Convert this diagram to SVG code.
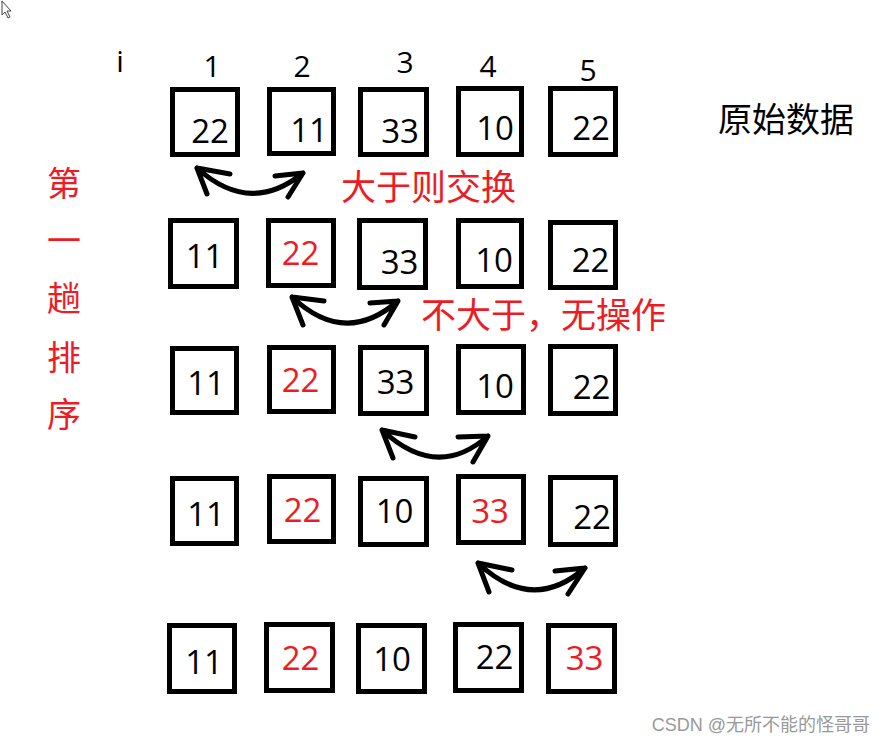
<svg xmlns="http://www.w3.org/2000/svg" width="888" height="745" viewBox="0 0 888 745">
<style>
.box{fill:#fff;stroke:#000;stroke-width:5}
.n{font-family:"Open Sans","Noto Sans",sans-serif;font-size:33px;text-anchor:middle;fill:#000}
.r{fill:#ed1c24}
.h{font-family:"Open Sans","Noto Sans",sans-serif;font-size:30px;text-anchor:middle;fill:#000}
.cj{font-family:"Noto Sans CJK SC",sans-serif;font-size:34px}
.cl{font-family:"Noto Sans CJK SC",sans-serif;font-size:35px}
.arr{fill:none;stroke:#000;stroke-width:5;stroke-linecap:round;stroke-linejoin:round}
</style>
<rect width="888" height="745" fill="#fff"/>
<polygon points="2,1 2,15 5,12 8,18 10,17 7,11 11,11" fill="#fff" stroke="#444" stroke-width="1"/>
<g id="headers">
<text class="h" x="120" y="72">i</text>
<text class="h" x="212" y="77">1</text>
<text class="h" x="302" y="77">2</text>
<text class="h" x="405" y="73">3</text>
<text class="h" x="488" y="77">4</text>
<text class="h" x="588" y="81">5</text>
</g>
<g id="row1">
<rect class="box" x="172.5" y="89.5" width="65" height="65"/><text class="n" x="210" y="143">22</text>
<rect class="box" x="269.5" y="89.5" width="64" height="64"/><text class="n" x="309" y="142">11</text>
<rect class="box" x="360.5" y="89.5" width="66" height="65"/><text class="n" x="400" y="143">33</text>
<rect class="box" x="458.5" y="88.5" width="63" height="66"/><text class="n" x="495" y="140">10</text>
<rect class="box" x="550.5" y="88.5" width="65" height="66"/><text class="n" x="591" y="140">22</text>
</g>
<g id="row2">
<rect class="box" x="170.5" y="220.5" width="66" height="66"/><text class="n" x="204.5" y="268">11</text>
<rect class="box" x="268.5" y="220.5" width="65" height="65"/><text class="n r" x="300.5" y="265">22</text>
<rect class="box" x="359.5" y="220.5" width="66" height="67"/><text class="n" x="399.5" y="274">33</text>
<rect class="box" x="458.5" y="220.5" width="63" height="66"/><text class="n" x="494" y="272">10</text>
<rect class="box" x="550.5" y="222.5" width="65" height="65"/><text class="n" x="590.5" y="272">22</text>
</g>
<g id="row3">
<rect class="box" x="172.5" y="348.5" width="64" height="64"/><text class="n" x="206" y="395">11</text>
<rect class="box" x="269.5" y="347.5" width="64" height="64"/><text class="n r" x="300.5" y="392">22</text>
<rect class="box" x="360.5" y="347.5" width="66" height="66"/><text class="n" x="395.5" y="394">33</text>
<rect class="box" x="458.5" y="346.5" width="65" height="66"/><text class="n" x="495" y="398">10</text>
<rect class="box" x="550.5" y="346.5" width="65" height="67"/><text class="n" x="591.5" y="399">22</text>
</g>
<g id="row4">
<rect class="box" x="172.5" y="478.5" width="64" height="65"/><text class="n" x="206" y="526">11</text>
<rect class="box" x="269.5" y="476.5" width="64" height="65"/><text class="n r" x="302.5" y="522">22</text>
<rect class="box" x="360.5" y="478.5" width="66" height="66"/><text class="n" x="394.5" y="523">10</text>
<rect class="box" x="458.5" y="476.5" width="65" height="66"/><text class="n r" x="490" y="523">33</text>
<rect class="box" x="550.5" y="477.5" width="65" height="67"/><text class="n" x="592" y="529">22</text>
</g>
<g id="row5">
<rect class="box" x="169.5" y="625.5" width="65" height="66"/><text class="n" x="204" y="674">11</text>
<rect class="box" x="266.5" y="624.5" width="66" height="66"/><text class="n r" x="300.5" y="670">22</text>
<rect class="box" x="358.5" y="625.5" width="66" height="66"/><text class="n" x="392" y="671">10</text>
<rect class="box" x="455.5" y="624.5" width="66" height="66"/><text class="n" x="494.5" y="669">22</text>
<rect class="box" x="548.5" y="625.5" width="66" height="66"/><text class="n r" x="584.5" y="670">33</text>
</g>
<g id="connectors">
<path class="arr" d="M197,168 Q250,216 303,173 M230,174 L197,168 L207,194 M275,176 L303,173 L288,197"/>
<path class="arr" d="M292,297 Q345,347 398,301 M324,301 L292,297 L303,325 M370,303 L398,301 L384,325"/>
<path class="arr" d="M382,430 Q437,481 488,436 M415,437 L382,430 L393,458 M458,437 L488,436 L473,462"/>
<path class="arr" d="M478,563 Q532,614 585,568 M512,570 L478,563 L489,592 M555,571 L585,568 L568,594"/>
</g>
<g id="labels">
<text class="cl r" x="341" y="200">大于则交换</text>
<text class="cl r" x="421" y="328">不大于，无操作</text>
<text class="cj" x="718" y="132" fill="#000">原始数据</text>
<g class="cj r" text-anchor="middle">
<text x="64" y="196">第</text>
<text x="64" y="253">一</text>
<text x="64" y="311">趟</text>
<text x="64" y="370">排</text>
<text x="64" y="427">序</text>
</g>
<text x="870" y="731" text-anchor="end" font-family="'Liberation Sans','Noto Sans CJK SC',sans-serif" font-size="18" fill="#999">CSDN @无所不能的怪哥哥</text>
</g>
</svg>
